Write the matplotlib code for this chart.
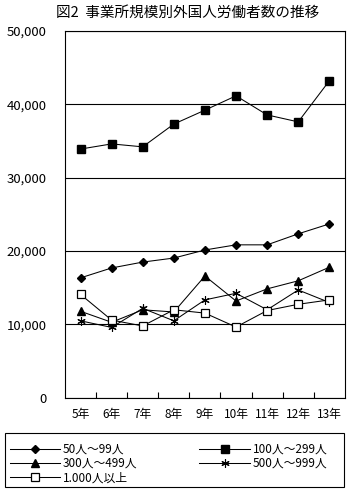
import matplotlib
matplotlib.use("Agg")
import matplotlib.pyplot as plt
from matplotlib.patches import Rectangle

plt.rcParams['font.family'] = ['Noto Sans CJK JP', 'DejaVu Sans']

years = ["5年", "6年", "7年", "8年", "9年", "10年", "11年", "12年", "13年"]

s50_99 = [16350, 17700, 18500, 19050, 20150, 20850, 20850, 22350, 23700]
s100_299 = [33900, 34600, 34200, 37300, 39200, 41150, 38550, 37600, 43200]
s300_499 = [11800, 10300, 12000, 11700, 16600, 13200, 14850, 15950, 17800]
s500_999 = [10500, 9600, 12200, 10500, 13350, 14250, 12000, 14700, 13000]
s1000 = [14100, 10600, 9800, 12000, 11550, 9650, 11900, 12750, 13350]

labels = ["50人～99人", "100人～299人", "300人～499人", "500人～999人", "1.000人以上"]
series = [s50_99, s100_299, s300_499, s500_999, s1000]
styles = [
    dict(marker="D", markersize=4.3, markerfacecolor="black"),
    dict(marker="s", markersize=5.5, markerfacecolor="black"),
    dict(marker="^", markersize=6, markerfacecolor="black"),
    dict(marker=(6, 2, 0), markersize=6, markeredgewidth=0.8),
    dict(marker="s", markersize=6, markerfacecolor="white", markeredgewidth=0.9),
]

fig = plt.figure(figsize=(3.53, 4.9), dpi=100)
ax = fig.add_axes([0.184, 0.188, 0.793, 0.749])

x = list(range(len(years)))
handles = []
for vals, lab, st in zip(series, labels, styles):
    h, = ax.plot(x, vals, color="black", linewidth=0.75, markeredgecolor="black",
                 label=lab, **st)
    handles.append(h)

ax.set_xlim(-0.5, len(years) - 0.5)
ax.set_ylim(0, 50000)
ax.set_yticks(range(0, 50001, 10000))
ax.set_yticklabels([f"{v:,}" for v in range(0, 50001, 10000)], fontsize=9.5)
ax.yaxis.grid(True, color="black", linewidth=0.8)
ax.set_axisbelow(True)
ax.tick_params(axis="y", length=0, pad=13)

ax.set_xticks(x)
ax.set_xticklabels(years, fontsize=8.5)
ax.tick_params(axis="x", length=0, pad=7)
ax.set_xticks([i + 0.5 for i in range(len(years) - 1)], minor=True)
ax.tick_params(axis="x", which="minor", direction="in", length=4, width=0.8)

for sp in ax.spines.values():
    sp.set_linewidth(0.8)

fig.text(0.531, 0.975, "図2  事業所規模別外国人労働者数の推移", ha="center", va="center",
         fontsize=10.5)

# legend box drawn separately so it spans the full width
fig.patches.append(Rectangle((0.0142, 0.006), 0.960, 0.110, transform=fig.transFigure,
                             fill=False, edgecolor="black", linewidth=0.8))

order = [0, 2, 4, 1, 3]
leg = fig.legend([handles[i] for i in order], [labels[i] for i in order],
                 loc="upper left", bbox_to_anchor=(0.0142, 0.106),
                 ncol=2, fontsize=8.5, frameon=False,
                 handlelength=4.3, handletextpad=0.2,
                 borderpad=0.4, labelspacing=0.1, borderaxespad=0,
                 columnspacing=5.25)

fig.savefig("out.png", dpi=100)
